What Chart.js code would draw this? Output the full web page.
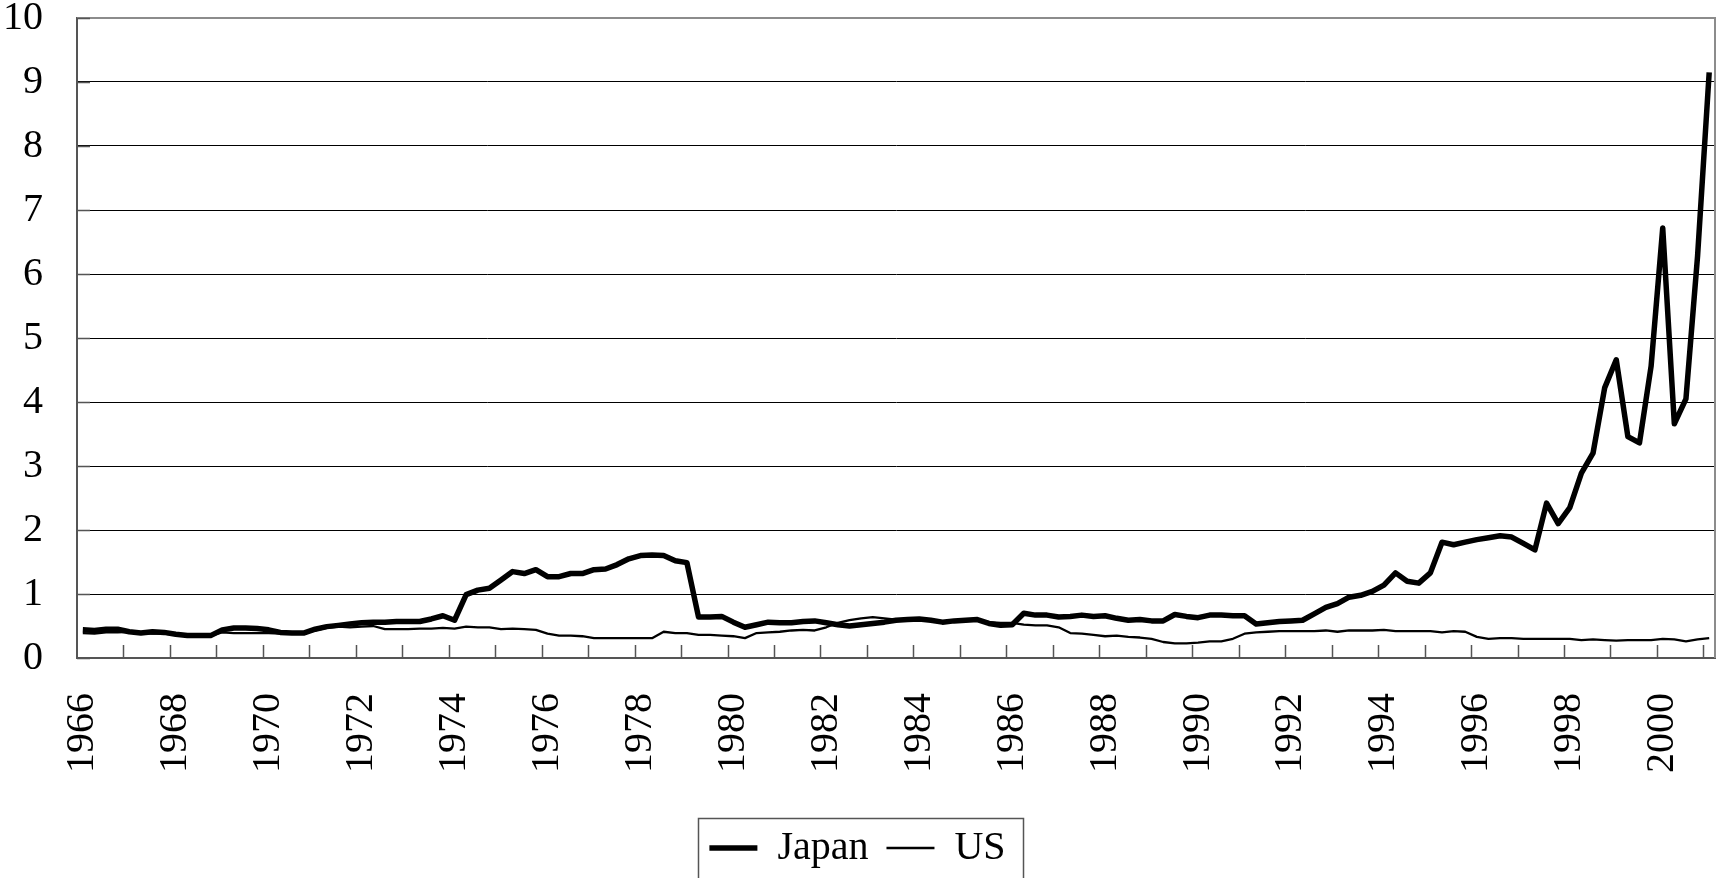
<!DOCTYPE html>
<html>
<head>
<meta charset="utf-8">
<title>Japan / US</title>
<script src="https://cdn.jsdelivr.net/npm/chart.js@4.4.1/dist/chart.umd.min.js"></script>
<style>
  html, body { margin: 0; padding: 0; background: #fff; overflow: hidden; }
  #wrap { width: 1718px; height: 878px; }
</style>
</head>
<body>
<div id="wrap"><canvas id="chart" width="1718" height="878"></canvas></div>
<script>
// ------- Data: quarterly, 1966 Q1 .. 2001 Q1 -------
const years = [1966, 1967, 1968, 1969, 1970, 1971, 1972, 1973, 1974, 1975, 1976, 1977,
  1978, 1979, 1980, 1981, 1982, 1983, 1984, 1985, 1986, 1987, 1988, 1989, 1990, 1991,
  1992, 1993, 1994, 1995, 1996, 1997, 1998, 1999, 2000, 2001];
const quarters = ['Q1', 'Q2', 'Q3', 'Q4'];
const tickLabels = ['1966', '1968', '1970', '1972', '1974', '1976', '1978', '1980', '1982',
  '1984', '1986', '1988', '1990', '1992', '1994', '1996', '1998', '2000'];

const japan = [
  0.44, 0.43, 0.45, 0.45, 0.41, 0.39, 0.41, 0.40, 0.37, 0.35, 0.35, 0.35,  // 1966-68
  0.44, 0.47, 0.47, 0.46, 0.44, 0.40, 0.39, 0.39, 0.45, 0.49, 0.51, 0.53,  // 1969-71
  0.55, 0.56, 0.56, 0.57, 0.57, 0.57, 0.61, 0.66, 0.59, 0.99, 1.06, 1.09,  // 1972-74
  1.22, 1.35, 1.32, 1.38, 1.27, 1.27, 1.32, 1.32, 1.38, 1.39, 1.46, 1.55,  // 1975-77
  1.60, 1.61, 1.60, 1.52, 1.49, 0.64, 0.64, 0.65, 0.56, 0.48, 0.52, 0.56,  // 1978-80
  0.55, 0.55, 0.57, 0.58, 0.55, 0.52, 0.50, 0.52, 0.54, 0.56, 0.59, 0.60,  // 1981-83
  0.61, 0.59, 0.56, 0.58, 0.59, 0.60, 0.54, 0.51, 0.52, 0.70, 0.67, 0.67,  // 1984-86
  0.64, 0.65, 0.67, 0.65, 0.66, 0.62, 0.59, 0.60, 0.58, 0.58, 0.68, 0.65,  // 1987-89
  0.63, 0.67, 0.67, 0.66, 0.66, 0.53, 0.55, 0.57, 0.58, 0.59, 0.69, 0.79,  // 1990-92
  0.85, 0.95, 0.98, 1.04, 1.14, 1.33, 1.20, 1.17, 1.33, 1.81, 1.77, 1.81,  // 1993-95
  1.85, 1.88, 1.91, 1.89, 1.79, 1.69, 2.42, 2.10, 2.35, 2.89, 3.20, 4.22,  // 1996-98
  4.66, 3.46, 3.36, 4.56, 6.72, 3.66, 4.05, 6.28, 9.15                     // 1999-2001Q1
];
const us = [
  0.39, 0.38, 0.40, 0.40, 0.41, 0.39, 0.38, 0.38, 0.36, 0.35, 0.35, 0.35,
  0.40, 0.39, 0.39, 0.39, 0.39, 0.38, 0.38, 0.38, 0.43, 0.47, 0.49, 0.48,
  0.49, 0.50, 0.45, 0.45, 0.45, 0.46, 0.46, 0.47, 0.46, 0.49, 0.48, 0.48,
  0.45, 0.46, 0.45, 0.44, 0.38, 0.35, 0.35, 0.34, 0.31, 0.31, 0.31, 0.31,
  0.31, 0.31, 0.41, 0.39, 0.39, 0.36, 0.36, 0.35, 0.34, 0.31, 0.39, 0.40,
  0.41, 0.43, 0.44, 0.43, 0.48, 0.55, 0.59, 0.62, 0.64, 0.62, 0.60, 0.60,
  0.61, 0.59, 0.57, 0.58, 0.59, 0.59, 0.56, 0.55, 0.55, 0.52, 0.51, 0.51,
  0.48, 0.39, 0.38, 0.36, 0.34, 0.35, 0.33, 0.32, 0.30, 0.25, 0.23, 0.23,
  0.24, 0.26, 0.26, 0.30, 0.38, 0.40, 0.41, 0.42, 0.42, 0.42, 0.42, 0.43,
  0.41, 0.43, 0.43, 0.43, 0.44, 0.42, 0.42, 0.42, 0.42, 0.40, 0.42, 0.41,
  0.33, 0.30, 0.31, 0.31, 0.30, 0.30, 0.30, 0.30, 0.30, 0.28, 0.29, 0.28,
  0.27, 0.28, 0.28, 0.28, 0.30, 0.29, 0.26, 0.29, 0.31
];

const labels = [];
years.forEach(y => quarters.forEach(q => labels.push(y + ' ' + q)));
labels.length = japan.length;

// ------- Plot frame, inward tick marks, legend box -------
const framePlugin = {
  id: 'frame',
  afterDatasetsDraw(chart) {
    const { ctx, chartArea: a, scales: { x, y } } = chart;
    ctx.save();
    ctx.strokeStyle = '#8c8c8c';
    ctx.lineWidth = 2;
    ctx.beginPath();
    ctx.moveTo(a.left, a.top);
    ctx.lineTo(a.right, a.top);
    ctx.lineTo(a.right, a.bottom);
    ctx.stroke();

    ctx.strokeStyle = '#555';
    ctx.lineWidth = 1.5;
    ctx.beginPath();
    for (let i = 4; i < labels.length; i += 4) {
      const px = Math.round((x.getPixelForValue(i - 1) + x.getPixelForValue(i)) / 2) + 0.5;
      ctx.moveTo(px, a.bottom);
      ctx.lineTo(px, a.bottom - 13);
    }
    y.ticks.forEach(t => {
      const py = Math.round(y.getPixelForValue(t.value)) + 0.5;
      ctx.moveTo(a.left, py);
      ctx.lineTo(a.left + 13, py);
    });
    ctx.stroke();
    ctx.restore();
  },
  afterDraw(chart) {
    const { ctx, legend } = chart;
    const hb = legend.legendHitBoxes;
    if (!hb || !hb.length) return;
    const last = hb[hb.length - 1];
    const l = hb[0].left - 11;
    const r = last.left + last.width + 18;
    ctx.save();
    ctx.strokeStyle = '#555';
    ctx.lineWidth = 1.5;
    ctx.strokeRect(Math.round(l) + 0.5, Math.round(legend.top + 8) + 0.5, Math.round(r - l), chart.height);
    ctx.restore();
  }
};

Chart.defaults.font.family = '"Liberation Serif", "Times New Roman", serif';
Chart.defaults.font.size = 40;
Chart.defaults.color = '#000';

new Chart(document.getElementById('chart'), {
  type: 'line',
  data: {
    labels,
    datasets: [
      { label: 'Japan', data: japan, borderColor: '#000', borderWidth: 5.5,
        pointRadius: 0, tension: 0, borderJoinStyle: 'round' },
      { label: 'US', data: us, borderColor: '#000', borderWidth: 2.3,
        pointRadius: 0, tension: 0, borderJoinStyle: 'round' }
    ]
  },
  options: {
    responsive: false, animation: false, devicePixelRatio: 1,
    layout: { padding: { top: 18, right: 3, left: 0, bottom: 0 } },
    plugins: {
      tooltip: { enabled: false },
      legend: {
        position: 'bottom',
        labels: { usePointStyle: true, pointStyle: 'line', pointStyleWidth: 48,
          padding: 18, color: '#000', font: { size: 40 } }
      }
    },
    scales: {
      x: {
        type: 'category', offset: true,
        grid: { offset: true, drawOnChartArea: false, drawTicks: false },
        border: { color: '#555', width: 2 },
        ticks: {
          autoSkip: false, maxRotation: 90, minRotation: 90, padding: 35,
          color: '#000', font: { size: 40 },
          callback: (v, i) => (i % 8 === 0 ? tickLabels[i / 8] : '')
        },
        afterFit: s => { s.height = 152; s.paddingLeft = 0; s.paddingRight = 0; }
      },
      y: {
        min: 0, max: 10,
        ticks: { stepSize: 1, padding: 34, color: '#000', font: { size: 40 } },
        grid: {
          drawTicks: false, lineWidth: 1,
          color: c => (c.tick.value === 0 || c.tick.value === 10 ? 'rgba(0,0,0,0)' : '#000')
        },
        border: { color: '#555', width: 2 },
        afterFit: s => { s.width = 77; s.paddingTop = 0; s.paddingBottom = 0; }
      }
    }
  },
  plugins: [framePlugin]
});
</script>
</body>
</html>
